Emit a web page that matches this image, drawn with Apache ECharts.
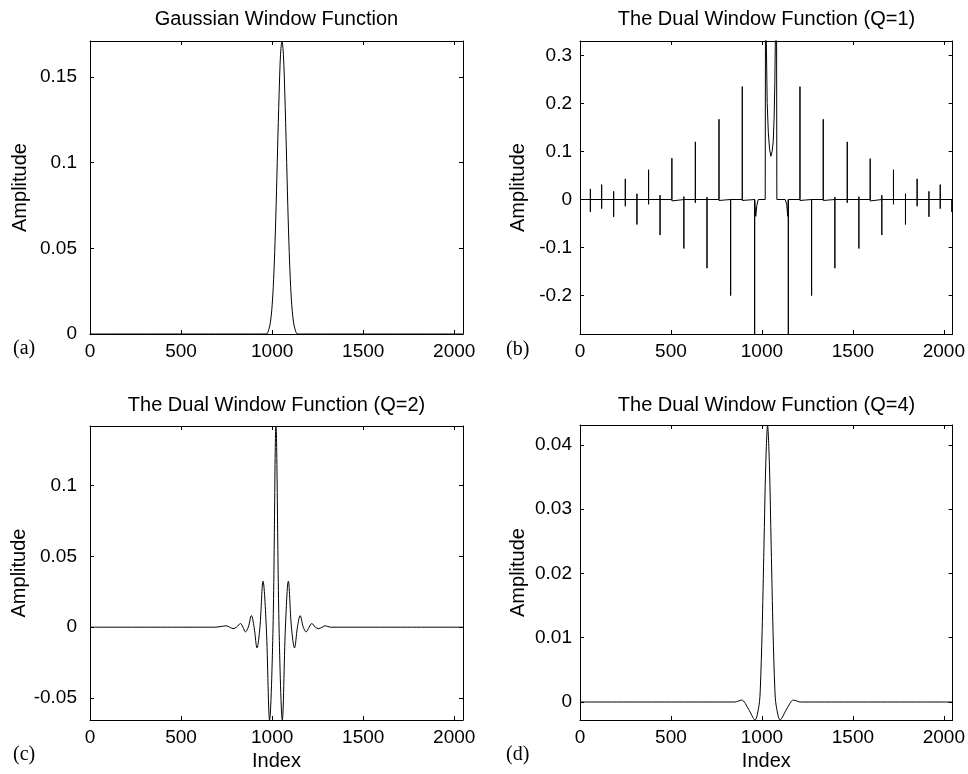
<!DOCTYPE html>
<html><head><meta charset="utf-8">
<script src="https://cdn.jsdelivr.net/npm/echarts@6/dist/echarts.min.js"></script>
<style>html,body{margin:0;padding:0;background:#fff}#c{width:968px;height:774px}</style>
</head><body><div id="c"></div>
<script>
// ---------- tick values ----------
const xTicks = [0, 500, 1000, 1500, 2000];
const yTicksA = [0, 0.05, 0.1, 0.15];
const yTicksB = [-0.2, -0.1, 0, 0.1, 0.2, 0.3];
const yTicksC = [-0.05, 0, 0.05, 0.1];
const yTicksD = [0, 0.01, 0.02, 0.03, 0.04];

// ---------- (a) Gaussian window ----------
const gaussX = [0, 960, 974, 982, 990, 998, 1006, 1014, 1022, 1030, 1038, 1046, 1054, 1062, 1070, 1078, 1086, 1094, 1102, 1110, 1118, 1126, 1134, 1148, 2048];
const gaussY = [0, 0, 0.0004, 0.0027, 0.0065, 0.0139, 0.027, 0.0475, 0.075, 0.108, 0.139, 0.163, 0.171, 0.163, 0.139, 0.108, 0.075, 0.0475, 0.027, 0.0139, 0.0065, 0.0027, 0.0004, 0, 0];

// ---------- (b) dual window Q=1 : spikes ----------
const q1SpikeX   = [57, 119, 185, 249, 313, 377, 440, 505, 571, 634, 698, 764, 828, 892, 960, 1145, 1209, 1273, 1337, 1401, 1469, 1533, 1595, 1659, 1723, 1789, 1853, 1918, 1980, 2044];
const q1SpikePos = [0.022, 0.031, 0.017, 0.043, 0.012, 0.062, 0.009, 0.086, 0.006, 0.120, 0.005, 0.167, 0.004, 0.235, 0.003, 0.003, 0.235, 0.004, 0.167, 0.005, 0.120, 0.006, 0.085, 0.009, 0.062, 0.012, 0.043, 0.017, 0.031, 0];
const q1SpikeNeg = [-0.026, -0.019, -0.036, -0.014, -0.052, -0.010, -0.074, -0.003, -0.102, -0.007, -0.143, -0.002, -0.200, -0.002, -0.5, -0.5, -0.002, -0.200, -0.002, -0.143, -0.007, -0.102, -0.003, -0.074, -0.010, -0.052, -0.014, -0.036, -0.019, -0.026];
// (b) centre lobe and rounded feet
const q1CurveX = [0, 966, 972, 980, 1018, 1020, 1024, 1029, 1035, 1042, 1049, 1056, 1062, 1067, 1071, 1076, 1080, 1082, 1128, 1136, 1142, 2048];
const q1CurveY = [0, -0.035, -0.012, 0, 0, 0.5, 0.33, 0.2, 0.14, 0.105, 0.09, 0.1, 0.12, 0.17, 0.245, 0.4, 0.5, 0, 0, -0.01, -0.035, 0];

// ---------- (c) dual window Q=2 ----------
const q2X = [0, 685, 720, 749, 767, 785, 805, 826, 840, 853, 869, 886, 901, 917, 933, 950, 968, 986, 1005, 1021, 1038, 1056, 1073, 1089, 1106, 1123, 1139, 1154, 1171, 1187, 1203, 1218, 1237, 1256, 1274, 1292, 1320, 1355, 2048];
const q2Y = [0, 0, 0.0005, 0.001, 0, -0.001, 0, 0.0026, 0, -0.0033, 0, 0.0082, 0, -0.0146, 0, 0.0325, 0, -0.0655, 0, 0.142, 0, -0.0655, 0, 0.0325, 0, -0.0146, 0, 0.0082, 0, -0.0033, 0, 0.0026, 0, -0.001, 0, 0.001, 0, 0, 0];

// ---------- (d) dual window Q=4 ----------
const q4X = [0, 850, 889, 926, 962, 984, 991, 1001, 1011, 1021, 1031, 1041, 1051, 1061, 1071, 1078, 1100, 1136, 1173, 1212, 2048];
const q4Y = [0, 0, 0.0003, -0.0011, -0.0028, -0.0005, 0.002, 0.011, 0.024, 0.037, 0.0431, 0.037, 0.024, 0.011, 0.002, -0.0005, -0.0028, -0.0011, 0.0003, 0, 0];

// ---------- texts ----------
const titles = ['Gaussian Window Function', 'The Dual Window Function (Q=1)', 'The Dual Window Function (Q=2)', 'The Dual Window Function (Q=4)'];
const panelTags = ['(a)', '(b)', '(c)', '(d)'];

function pairs(xs, ys) { return xs.map((x, i) => [x, ys[i]]); }

const q1Data = [];
q1SpikeX.forEach((x, i) => {
  q1Data.push([x, 0], [x, q1SpikePos[i]], [x, q1SpikeNeg[i]], [x, 0]);
});
pairs(q1CurveX, q1CurveY).forEach(p => q1Data.push(p));
q1Data.sort((a, b) => a[0] - b[0]);

const FONT = 'Liberation Sans';
const plain = v => String(Math.round(v * 10000) / 10000);
const grids = [
  { left: 90, top: 41, width: 373, height: 293 },
  { left: 580, top: 41, width: 373, height: 293 },
  { left: 90, top: 426, width: 373, height: 294 },
  { left: 580, top: 425, width: 373, height: 295 }
];
const yRanges = [[0, 0.171], [-0.28, 0.33], [-0.0655, 0.142], [-0.0028, 0.0431]];
const yTickSets = [yTicksA, yTicksB, yTicksC, yTicksD];
const yLabelMargins = [13, 8, 13, 8];
const yNameGaps = [60, 52, 60, 52];

const xAxes = [], yAxes = [];
const lineCol = '#000';
grids.forEach((g, i) => {
  xAxes.push({
    type: 'value', gridIndex: i, min: 0, max: 2048, position: 'bottom',
    axisLine: { show: true, onZero: false, lineStyle: { color: lineCol, width: 1 } },
    axisTick: { show: true, inside: true, length: 4, customValues: xTicks, lineStyle: { color: lineCol } },
    axisLabel: { show: true, customValues: xTicks, formatter: plain, color: '#000', fontSize: 19, fontFamily: FONT, margin: 8 },
    splitLine: { show: false },
    name: i >= 2 ? 'Index' : '', nameLocation: 'middle', nameGap: 31,
    nameTextStyle: { color: '#000', fontSize: 20, fontFamily: FONT }
  });
  xAxes.push({
    type: 'value', gridIndex: i, min: 0, max: 2048, position: 'top',
    axisLine: { show: true, onZero: false, lineStyle: { color: lineCol, width: 1 } },
    axisTick: { show: true, inside: true, length: 4, customValues: xTicks, lineStyle: { color: lineCol } },
    axisLabel: { show: false }, splitLine: { show: false }
  });
  yAxes.push({
    type: 'value', gridIndex: i, min: yRanges[i][0], max: yRanges[i][1], position: 'left',
    axisLine: { show: true, onZero: false, lineStyle: { color: lineCol, width: 1 } },
    axisTick: { show: true, inside: true, length: 4, customValues: yTickSets[i], lineStyle: { color: lineCol } },
    axisLabel: { show: true, customValues: yTickSets[i], formatter: plain, color: '#000', fontSize: 19, fontFamily: FONT, margin: yLabelMargins[i] },
    splitLine: { show: false },
    name: 'Amplitude', nameLocation: 'middle', nameGap: yNameGaps[i],
    nameTextStyle: { color: '#000', fontSize: 20, fontFamily: FONT }
  });
  yAxes.push({
    type: 'value', gridIndex: i, min: yRanges[i][0], max: yRanges[i][1], position: 'right',
    axisLine: { show: true, onZero: false, lineStyle: { color: lineCol, width: 1 } },
    axisTick: { show: true, inside: true, length: 4, customValues: yTickSets[i], lineStyle: { color: lineCol } },
    axisLabel: { show: false }, splitLine: { show: false }
  });
});

const seriesData = [pairs(gaussX, gaussY), q1Data, pairs(q2X, q2Y), pairs(q4X, q4Y)];
const smoothing = [0.3, false, 0.35, 0.3];
const series = seriesData.map((d, i) => ({
  type: 'line', xAxisIndex: i * 2, yAxisIndex: i * 2, data: d,
  symbol: 'none', showSymbol: false, smooth: smoothing[i], clip: true,
  lineStyle: { color: '#000', width: 1 }, silent: true
}));

const title = titles.map((t, i) => ({
  text: t, left: grids[i].left + grids[i].width / 2, top: i < 2 ? 9 : 395,
  textAlign: 'center', padding: 0,
  textStyle: { fontSize: 20, fontWeight: 'normal', fontFamily: FONT, color: '#000' }
}));

const tagPos = [[13, 349], [506, 350], [13, 755], [506, 755]];
const graphic = panelTags.map((t, i) => ({
  type: 'text', x: tagPos[i][0], y: tagPos[i][1],
  style: { text: t, fontSize: 20, fontFamily: 'Liberation Serif', fill: '#000', verticalAlign: 'middle', align: 'left' }
}));

const chart = echarts.init(document.getElementById('c'), null, { renderer: 'canvas' });
chart.setOption({
  animation: false, backgroundColor: '#fff',
  title, grid: grids, xAxis: xAxes, yAxis: yAxes, series, graphic
});
</script></body></html>
